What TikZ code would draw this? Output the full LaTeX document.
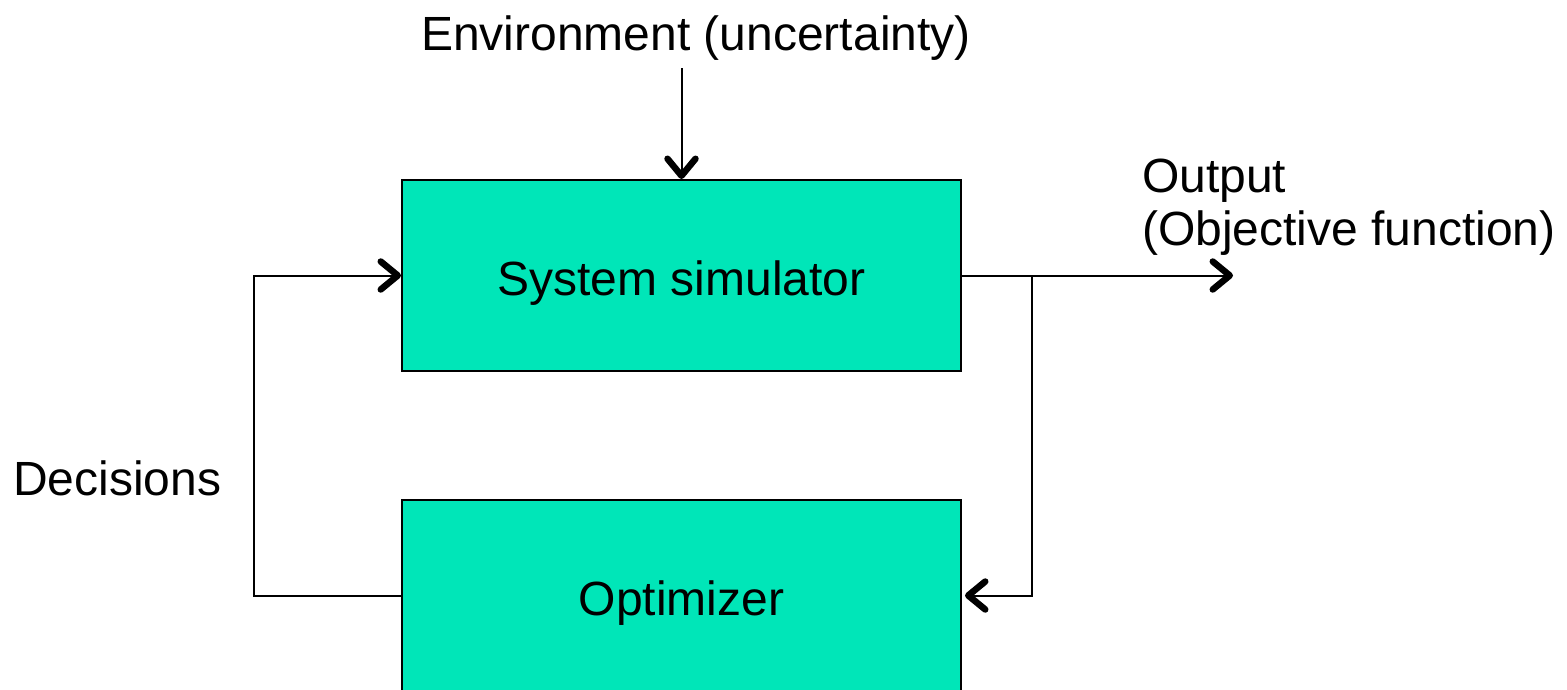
\documentclass[tikz,border=0pt]{standalone}
\usepackage{fontspec}
\setmainfont{Liberation Sans}
\usetikzlibrary{arrows.meta}
\definecolor{boxfill}{RGB}{0,230,184}
\begin{document}
\begin{tikzpicture}[x=1pt,y=-1pt,
  blk/.style={draw=black,line width=2pt,fill=boxfill,minimum width=559pt,minimum height=191pt,inner sep=0pt,text height=45pt,text depth=5pt,font=\fontsize{48}{58}\selectfont},
  lbl/.style={inner sep=0pt,font=\fontsize{48}{58}\selectfont},
  conn/.style={line width=2pt},
  tip/.style={-{Straight Barb[length=17pt,width=28pt,line width=6.5pt 0,round]}}]
\useasboundingbox (0,0) rectangle (1567,689);
\clip (0,0) rectangle (1567,689);
\node[blk] (sim) at (681.5,275.5) {System simulator};
\node[blk] (opt) at (681.5,595.5) {Optimizer};
\node[lbl,anchor=base] (env) at (696,50) {Environment (uncertainty)};
\node[lbl,anchor=base west] (out1) at (1142,192) {Output};
\node[lbl,anchor=base west] (out2) at (1142,245) {(Objective function)};
\node[lbl,anchor=base west] (dec) at (13,495) {Decisions};
\coordinate (envtop) at (681.5,68);
\coordinate (outend) at (1233,275.5);
\coordinate (br) at (1032,275.5);
\draw[conn,tip] (envtop) -- (sim.north -| envtop);
\draw[conn,tip] (sim.east) -- (outend);
\draw[conn,tip] (br) -- (br |- opt.east) -- ([xshift=3pt]opt.east);
\draw[conn,tip] (opt.west) -- (254,595.5) -- (254,275.5) -- (sim.west);
\end{tikzpicture}
\end{document}
